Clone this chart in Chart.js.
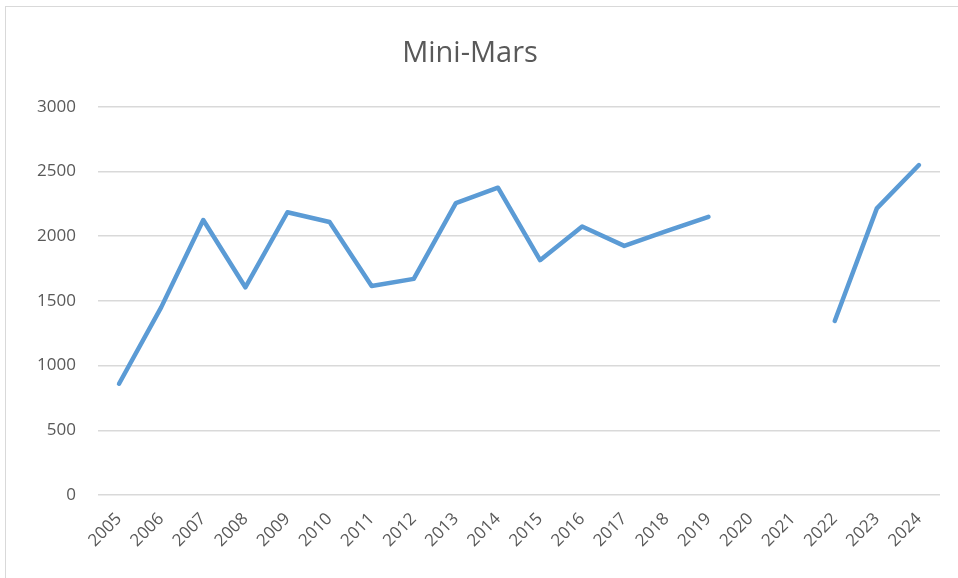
<!DOCTYPE html>
<html>
<head>
<meta charset="utf-8">
<script src="https://cdn.jsdelivr.net/npm/chart.js@4/dist/chart.umd.min.js"></script>
<style>
  body { margin: 0; background: #fff; }
  #wrap { position: relative; width: 958px; height: 578px; }
  #marco { position: absolute; left: 5px; top: 6px; width: 960px; height: 600px;
           border: 1px solid #d9d9d9; pointer-events: none; }
</style>
</head>
<body>
<div id="wrap">
  <canvas id="grafico" width="958" height="578"></canvas>
  <div id="marco"></div>
</div>
<script>
const anios = ["2005","2006","2007","2008","2009","2010","2011","2012","2013","2014",
               "2015","2016","2017","2018","2019","2020","2021","2022","2023","2024"];
const valores = [860, 1450, 2125, 1605, 2185, 2110, 1615, 1670, 2255, 2375,
                 1815, 2075, 1925, 2040, 2150, null, null, 1345, 2215, 2550];
const ticksY = [0, 500, 1000, 1500, 2000, 2500, 3000];

const gris = "#595959";

new Chart(document.getElementById("grafico"), {
  type: "line",
  data: {
    labels: anios,
    datasets: [{
      data: valores,
      borderColor: "#5b9bd5",
      borderWidth: 4.5,
      borderCapStyle: "round",
      borderJoinStyle: "round",
      pointRadius: 0,
      tension: 0,
      spanGaps: false
    }]
  },
  options: {
    responsive: false,
    animation: false,
    layout: { padding: { left: 0, right: 18, top: 0, bottom: 0 } },
    plugins: {
      legend: { display: false },
      tooltip: { enabled: false },
      title: {
        display: true,
        text: "Mini-Mars",
        color: gris,
        font: { family: "Open Sans", size: 29, weight: "normal" },
        padding: { top: 36, bottom: 36 }
      }
    },
    scales: {
      x: {
        offset: true,
        grid: { display: false },
        border: { display: false },
        ticks: {
          color: gris,
          font: { family: "Open Sans", size: 17 },
          minRotation: 45,
          maxRotation: 45,
          padding: 6
        },
        afterFit: s => { s.height = 83; }
      },
      y: {
        min: 0,
        max: 3000,
        afterBuildTicks: s => { s.ticks = ticksY.map(v => ({ value: v })); },
        grid: { color: "#d9d9d9", lineWidth: 1.5, drawTicks: false },
        border: { display: false },
        ticks: {
          color: gris,
          font: { family: "Open Sans", size: 17 },
          padding: 22,
          callback: v => String(v)
        },
        afterFit: s => { s.width = 98; }
      }
    }
  }
});
</script>
</body>
</html>
